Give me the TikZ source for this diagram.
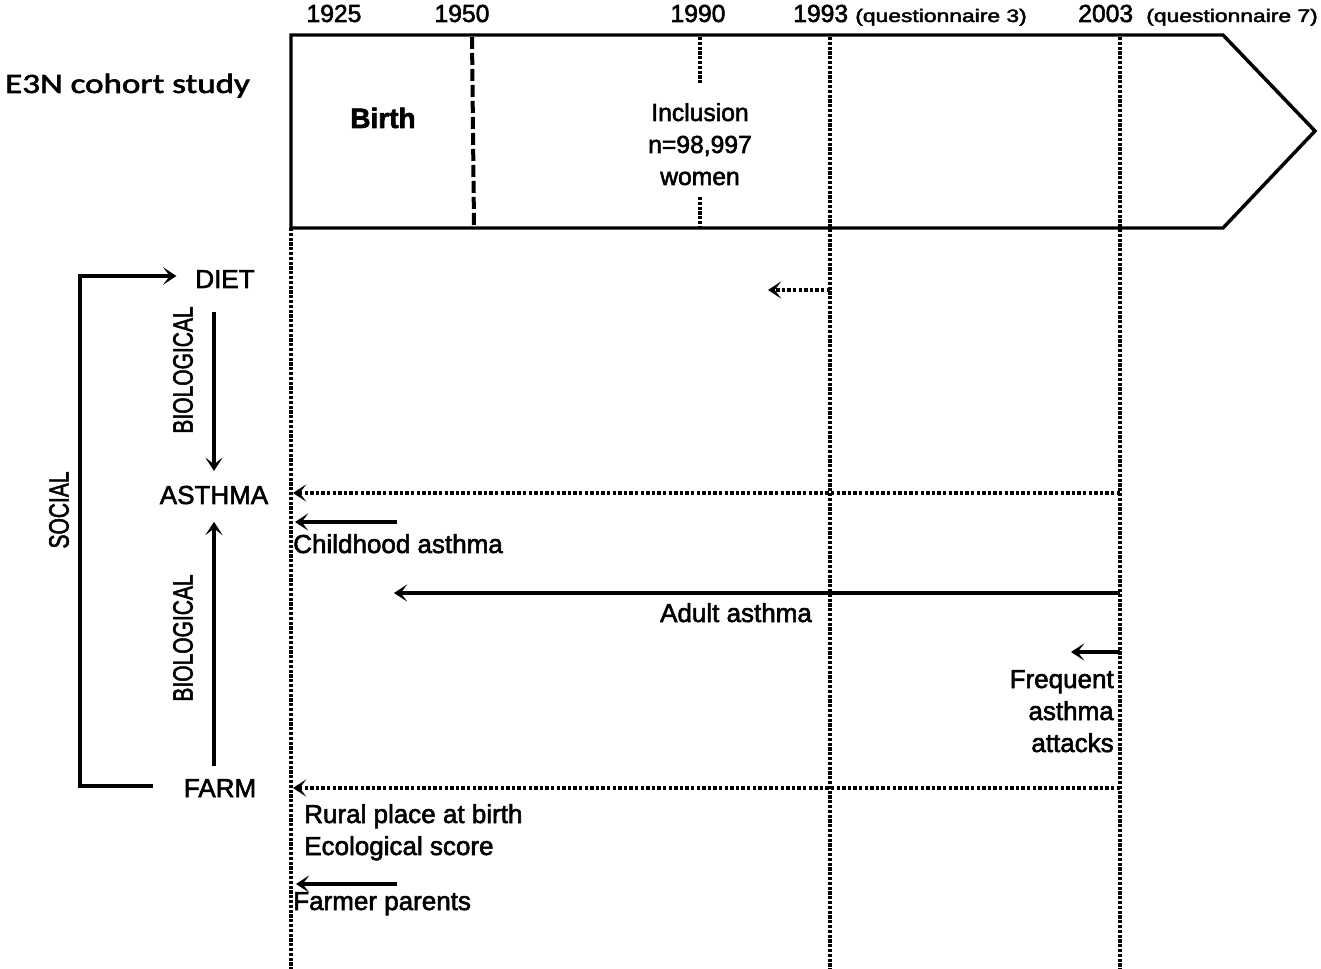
\documentclass[tikz,border=0pt]{standalone}
\usepackage{fontspec}
\usepackage{graphicx}
\setmainfont{Liberation Sans}[FakeBold=2.2]
\newfontfamily\calib{Carlito}[FakeBold=2]
\usetikzlibrary{arrows.meta}
\begin{document}
\begin{tikzpicture}[x=0.75pt,y=-0.75pt,
  lbl/.style={font=\fontsize{19.5}{23}\selectfont, inner sep=0pt},
  yr/.style={font=\fontsize{18.5}{21}\selectfont, inner sep=0pt},
  qn/.style={font=\fontsize{13.5}{16}\selectfont, inner sep=0pt},
  rot/.style={font=\fontsize{21}{24}\selectfont, inner sep=0pt, rotate=90},
  tipstyle/.style={-{Stealth[length=10pt,width=13pt,inset=5pt]}},
  solidarrow/.style={tipstyle, line width=2.6pt},
  dotarrow/.style={tipstyle, line width=2.6pt, dash pattern=on 2.6pt off 1.6pt},
  vdotted/.style={line width=2.6pt, dash pattern=on 2.4pt off 1.2pt},
  vdash/.style={line width=3pt, dash pattern=on 9pt off 3pt},
  boxline/.style={line width=2.6pt, line join=miter}]
\useasboundingbox (0,0) rectangle (1321,969);

% timeline box
\coordinate (bTL) at (291,35);
\coordinate (bTR) at (1223,35);
\coordinate (bTip) at (1315,131);
\coordinate (bBR) at (1223,228);
\coordinate (bBL) at (291,228);
\draw[boxline] (bTL) -- (bTR) -- (bTip) -- (bBR) -- (bBL) -- cycle;

% vertical time lines
\coordinate (v25bot) at (291,969);
\draw[vdotted] (bBL) -- (v25bot);
\coordinate (v50top) at (472,37);
\coordinate (v50bot) at (474,226);
\draw[vdash] (v50top) -- (v50bot);
\coordinate (v90a) at (700,37);
\coordinate (v90b) at (700,83);
\coordinate (v90c) at (700,197);
\coordinate (v90d) at (700,226);
\draw[line width=3pt, dash pattern=on 2.4pt off 1.2pt] (v90a) -- (v90b);
\draw[line width=3pt, dash pattern=on 2.4pt off 1.2pt] (v90c) -- (v90d);
\coordinate (v93top) at (830,37);
\coordinate (v93bot) at (830,969);
\draw[vdotted, line width=2.3pt] (v93top) -- (v93bot);
\coordinate (v03top) at (1120,37);
\coordinate (v03bot) at (1120,969);
\draw[vdotted] (v03top) -- (v03bot);

% year labels
\node[yr, anchor=base] (y25) at (334,22) {1925};
\node[yr, anchor=base] (y50) at (462,22) {1950};
\node[yr, anchor=base] (y90) at (698,22) {1990};
\node[yr, anchor=base west] (y93) at (793,22) {1993};
\node[qn, anchor=base west] (q3) at (855,22) {\scalebox{1.27}[1]{(questionnaire 3)}};
\node[yr, anchor=base west] (y03) at (1078,22) {2003};
\node[qn, anchor=base west] (q7) at (1146,22) {\scalebox{1.27}[1]{(questionnaire 7)}};

% title
\node[inner sep=0pt, anchor=base west] (title) at (5,93)
  {\calib\fontsize{21}{25}\selectfont\scalebox{1.25}[1]{E3N cohort study}};

% box contents
\node[inner sep=0pt, anchor=base, font=\fontsize{21}{25}\selectfont\bfseries] (birth) at (383,128) {Birth};
\node[lbl, font=\fontsize{18.5}{22}\selectfont, anchor=base] (incl1) at (700,121) {Inclusion};
\node[lbl, font=\fontsize{18.5}{22}\selectfont, anchor=base] (incl2) at (700,153) {n=98,997};
\node[lbl, font=\fontsize{18.5}{22}\selectfont, anchor=base] (incl3) at (700,185) {women};

% left concept nodes
\node[lbl, anchor=base] (DIET) at (225,288) {DIET};
\node[lbl, anchor=base] (ASTHMA) at (214,504) {ASTHMA};
\node[lbl, anchor=base] (FARM) at (220,797) {FARM};
\node[rot] (social) at (59,510) {\scalebox{0.75}[1]{SOCIAL}};
\node[rot] (bio1) at (183,370) {\scalebox{0.75}[1]{BIOLOGICAL}};
\node[rot] (bio2) at (183,638) {\scalebox{0.75}[1]{BIOLOGICAL}};

% social bracket
\coordinate (sTop) at (80,276);
\coordinate (sBot) at (80,786);
\coordinate (sBotEnd) at (153,786);
\draw[solidarrow, line join=miter, shorten >=14pt] (sBotEnd) -- (sBot) -- (sTop) -- (sTop -| DIET.west);

% biological arrows
\draw[solidarrow, shorten <=18pt, shorten >=11pt] (DIET.south -| ASTHMA.north) -- (ASTHMA.north);
\draw[solidarrow, shorten <=10pt, shorten >=13pt] (FARM.north -| ASTHMA.south) -- (ASTHMA.south);

% diet row
\coordinate (dietStart) at (830,290);
\coordinate (dietEnd) at (768,290);
\draw[dotarrow] (dietStart) -- (dietEnd);

% asthma rows
\coordinate (asthStart) at (1120,493);
\coordinate (asthEnd) at (293,493);
\draw[dotarrow] (asthStart) -- (asthEnd);

\coordinate (childStart) at (397,522);
\coordinate (childEnd) at (295,522);
\draw[solidarrow] (childStart) -- (childEnd);
\node[lbl, anchor=base west] (childtxt) at (293,553) {Childhood asthma};

\coordinate (adultStart) at (1120,593);
\coordinate (adultEnd) at (394,593);
\draw[solidarrow] (adultStart) -- (adultEnd);
\node[lbl, anchor=base] (adulttxt) at (736,622) {Adult asthma};

\coordinate (freqStart) at (1120,652);
\coordinate (freqEnd) at (1071,652);
\draw[solidarrow] (freqStart) -- (freqEnd);
\node[lbl, anchor=base east] (freq1) at (1114,688) {Frequent};
\node[lbl, anchor=base east] (freq2) at (1114,720) {asthma};
\node[lbl, anchor=base east] (freq3) at (1114,752) {attacks};

% farm rows
\coordinate (farmStart) at (1120,788);
\coordinate (farmEnd) at (293,788);
\draw[dotarrow] (farmStart) -- (farmEnd);
\node[lbl, anchor=base west] (rural) at (304,823) {Rural place at birth};
\node[lbl, anchor=base west] (eco) at (304,855) {Ecological score};

\coordinate (farmerStart) at (397,884);
\coordinate (farmerEnd) at (296,884);
\draw[solidarrow] (farmerStart) -- (farmerEnd);
\node[lbl, anchor=base west] (farmer) at (293,910) {Farmer parents};
\end{tikzpicture}
\end{document}
